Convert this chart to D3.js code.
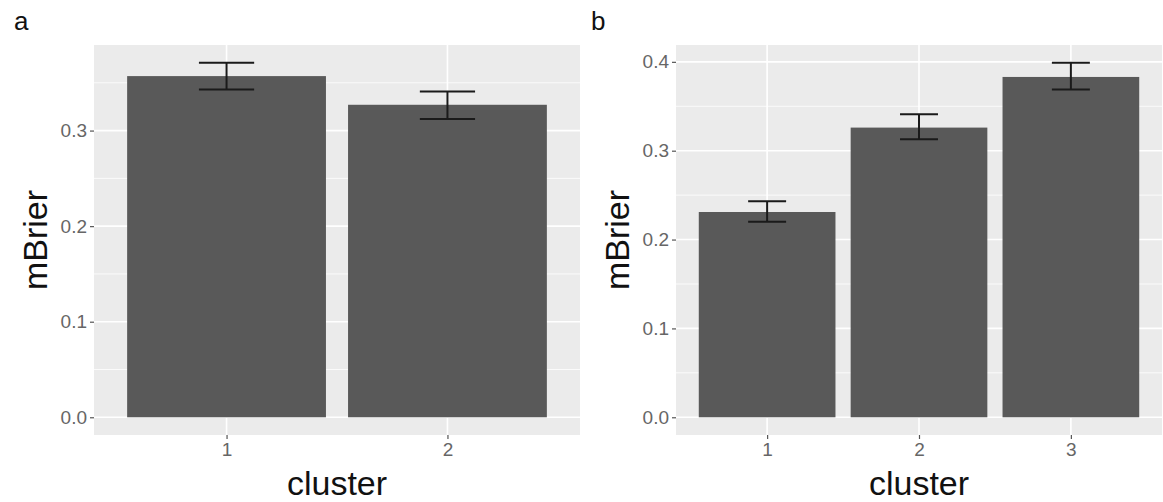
<!DOCTYPE html>
<html><head><meta charset="utf-8">
<script src="https://cdn.jsdelivr.net/npm/d3@7"></script>
<style>body{margin:0;background:#fff;} text{font-family:"Liberation Sans",Arial,sans-serif;}</style>
</head><body>
<svg id="chart" width="1163" height="502"></svg>
<script>
// Panel a data
const clustersA = ["1","2"];
const meanA = [0.357, 0.327];
const lowA  = [0.343, 0.312];
const highA = [0.371, 0.341];
const ticksA = [0.0, 0.1, 0.2, 0.3];
// Panel b data
const clustersB = ["1","2","3"];
const meanB = [0.231, 0.326, 0.383];
const lowB  = [0.220, 0.313, 0.369];
const highB = [0.243, 0.341, 0.399];
const ticksB = [0.0, 0.1, 0.2, 0.3, 0.4];
const minorTicks = [0.05, 0.15, 0.25, 0.35];

const svg = d3.select("#chart");

function panel(opt) {
  const {left, right, top, bottom, cats, mean, low, high, ticks, label, labelX, titleX} = opt;
  const g = svg.append("g");
  const n = cats.length;
  const x = d3.scaleLinear().domain([1 - 0.6, n + 0.6]).range([left, right]);
  const ymax = d3.max(high);
  const y = d3.scaleLinear().domain([-0.05 * ymax, ymax * 1.05]).range([bottom, top]);

  g.append("rect").attr("x", left).attr("y", top).attr("width", right - left).attr("height", bottom - top).attr("fill", "#ebebeb");
  g.selectAll(".minor").data(minorTicks.filter(v => v < ymax * 1.05)).enter().append("line")
    .attr("x1", left).attr("x2", right).attr("y1", d => y(d)).attr("y2", d => y(d))
    .attr("stroke", "#fff").attr("stroke-width", 0.8);
  g.selectAll(".major").data(ticks).enter().append("line")
    .attr("x1", left).attr("x2", right).attr("y1", d => y(d)).attr("y2", d => y(d))
    .attr("stroke", "#fff").attr("stroke-width", 1.6);
  g.selectAll(".vmajor").data(cats).enter().append("line")
    .attr("x1", (d, i) => x(i + 1)).attr("x2", (d, i) => x(i + 1)).attr("y1", top).attr("y2", bottom)
    .attr("stroke", "#fff").attr("stroke-width", 1.6);
  g.selectAll(".bar").data(mean).enter().append("rect")
    .attr("x", (d, i) => x(i + 1 - 0.45)).attr("width", (d, i) => x(i + 1 + 0.45) - x(i + 1 - 0.45))
    .attr("y", d => y(d)).attr("height", d => y(0) - y(d)).attr("fill", "#595959");
  const eb = g.selectAll(".eb").data(mean).enter().append("g");
  const ebStyle = sel => sel.attr("stroke", "#1a1a1a").attr("stroke-width", 2);
  eb.append("line").attr("x1", (d, i) => x(i + 1)).attr("x2", (d, i) => x(i + 1))
    .attr("y1", (d, i) => y(low[i])).attr("y2", (d, i) => y(high[i])).call(ebStyle);
  eb.append("line").attr("x1", (d, i) => x(i + 1 - 0.125)).attr("x2", (d, i) => x(i + 1 + 0.125))
    .attr("y1", (d, i) => y(low[i])).attr("y2", (d, i) => y(low[i])).call(ebStyle);
  eb.append("line").attr("x1", (d, i) => x(i + 1 - 0.125)).attr("x2", (d, i) => x(i + 1 + 0.125))
    .attr("y1", (d, i) => y(high[i])).attr("y2", (d, i) => y(high[i])).call(ebStyle);

  const yAxis = d3.axisLeft(y).tickValues(ticks).tickFormat(d3.format(".1f")).tickSize(4).tickPadding(3);
  const ya = g.append("g").attr("transform", `translate(${left},0)`).call(yAxis);
  ya.select(".domain").remove();
  ya.selectAll("line").attr("stroke", "#555").attr("stroke-width", 1.2);
  ya.selectAll("text").attr("fill", "#666").attr("font-size", 19).attr("font-family", "Liberation Sans, Arial, sans-serif");
  const xAxis = d3.axisBottom(x).tickValues(cats.map((c, i) => i + 1)).tickFormat((d, i) => cats[i]).tickSize(4).tickPadding(4);
  const xa = g.append("g").attr("transform", `translate(0,${bottom})`).call(xAxis);
  xa.select(".domain").remove();
  xa.selectAll("line").attr("stroke", "#555").attr("stroke-width", 1.2);
  xa.selectAll("text").attr("fill", "#666").attr("font-size", 19).attr("font-family", "Liberation Sans, Arial, sans-serif");

  g.append("text").attr("x", (left + right) / 2).attr("y", 495).attr("text-anchor", "middle")
    .attr("font-size", 34).attr("fill", "#111").text("cluster");
  g.append("text").attr("transform", `translate(${titleX},${(top + bottom) / 2}) rotate(-90)`)
    .attr("text-anchor", "middle").attr("font-size", 34).attr("fill", "#111").text("mBrier");
  g.append("text").attr("x", labelX).attr("y", 30).attr("font-size", 26).attr("fill", "#111").text(label);
}

panel({left: 94, right: 580, top: 45, bottom: 435, cats: clustersA, mean: meanA, low: lowA, high: highA, ticks: ticksA, label: "a", labelX: 14, titleX: 47});
panel({left: 676, right: 1162, top: 45, bottom: 435, cats: clustersB, mean: meanB, low: lowB, high: highB, ticks: ticksB, label: "b", labelX: 591, titleX: 629});
</script>
</body></html>
